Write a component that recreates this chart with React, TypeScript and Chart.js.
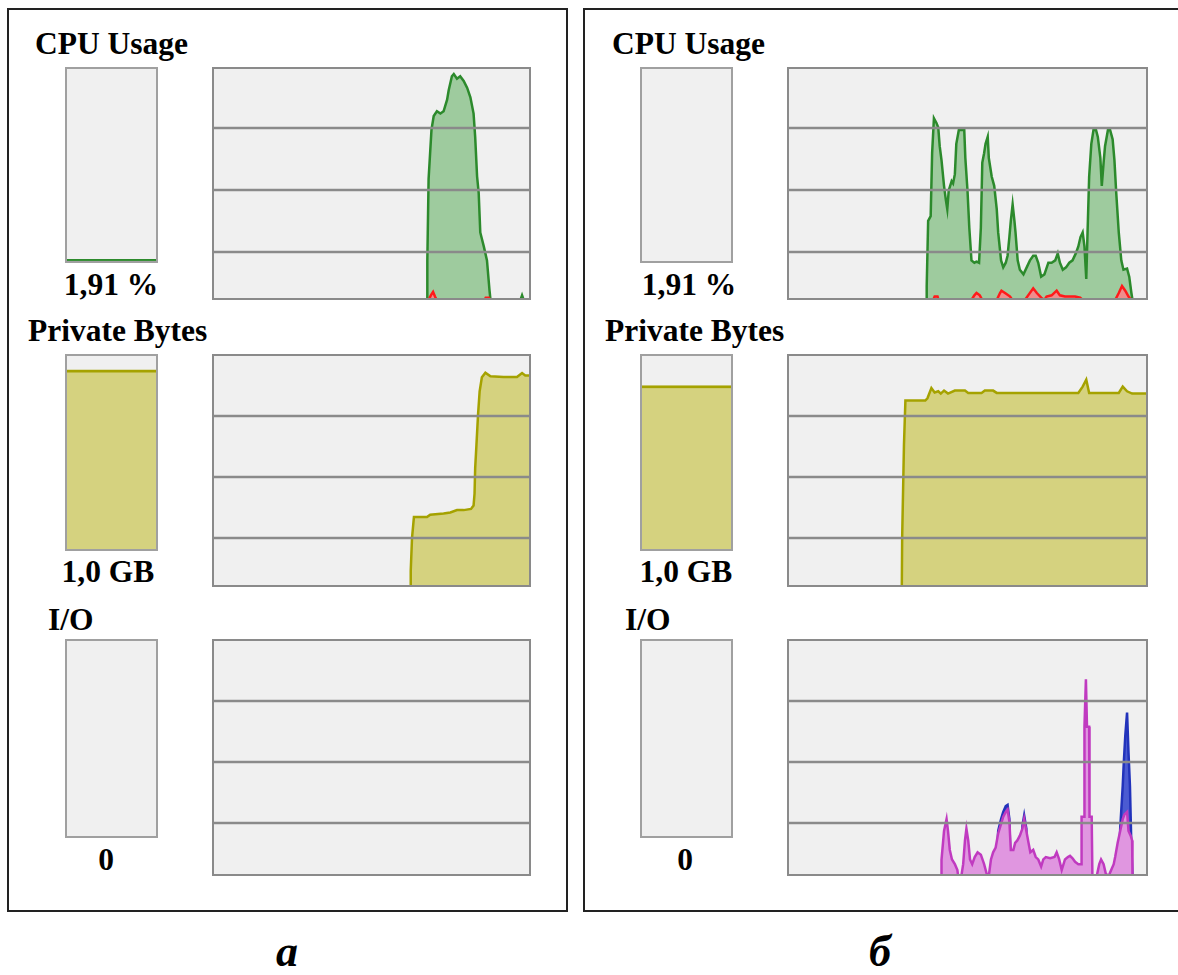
import React, { useEffect, useRef } from "react";
import { Chart, registerables } from "chart.js";

Chart.register(...registerables);

type Pt = [number, number];

// ---- data (time in % of the history window, value in % of graph height) ----
const cpuATotal: Pt[] = [[67.4,0],[67.5,17],[67.9,52],[68.8,73],[69.5,79],[70.5,81],[71.6,80],[72.6,81],[73.7,86],[74.2,90],[75.2,96],[75.8,97],[76.8,95],[77.8,96],[78.9,94],[80.0,91],[81.0,87],[82.0,80],[82.5,70],[83.1,53],[83.6,46],[84.1,29],[85.2,23],[86.2,17],[87.0,4],[87.3,0],[96.7,0],[97.2,2],[97.7,0]];
const cpuAKernel: Pt[] = [[67.9,0],[68.6,2],[69.3,3.5],[69.9,1.5],[70.5,0],[85.4,0],[85.8,1],[86.8,1],[87.2,0]];

const cpuBTotal: Pt[] = [[38.6,0],[38.7,6],[39.1,34],[39.8,36],[40.2,63],[40.7,78],[41.4,76],[41.9,74],[42.3,66],[42.8,60],[43.5,49],[44.0,43],[44.4,39],[44.8,47],[45.6,51],[46.0,50],[46.5,54],[46.9,67],[47.6,73],[48.3,73],[49.1,73],[49.4,61],[50.0,47],[50.5,31],[51.1,17],[51.9,16],[52.5,16.5],[53.2,16],[53.7,31],[54.1,59],[54.6,63],[55.0,67],[55.6,70],[55.9,61],[56.7,53],[57.4,49],[58.1,39],[58.5,29],[59.3,17],[59.9,14],[60.6,16],[61.1,19],[61.6,27],[62.0,34],[62.5,41],[63.0,34],[63.3,29],[63.9,17],[64.5,13],[65.5,11],[66.4,14],[67.3,17],[68.2,19],[68.9,19],[69.6,16],[70.4,10],[71.3,11],[72.4,16],[73.3,16],[74.3,17],[75.0,20],[75.6,16],[76.4,13],[77.3,14],[78.2,16],[79.1,17],[80.0,20],[80.7,23],[81.3,27],[81.9,29],[82.4,23],[82.9,9],[83.2,26],[83.7,53],[84.3,67],[84.9,73],[85.6,73],[86.1,70],[86.8,61],[87.2,49],[87.7,59],[88.1,66],[88.9,73],[89.5,73],[90.2,69],[90.7,60],[91.2,46],[91.9,29],[92.6,17],[93.2,13],[94.2,13.5],[94.8,10],[95.4,3],[95.7,0]];
const cpuBKernel: Pt[] = [[40.5,0],[40.9,1.5],[41.7,1.5],[42.0,0],[51.1,0],[51.9,2],[52.5,3],[53.4,2],[54.1,0],[58.1,0],[59.0,3],[59.4,4],[60.4,3],[61.8,1.5],[62.4,0],[65.9,0],[66.8,2],[68.2,5],[69.2,3],[70.4,1],[71.3,0],[71.9,1.5],[73.3,2],[74.7,4],[75.6,2],[77.0,1.5],[78.4,1.5],[79.8,1.5],[81.2,1],[81.9,0],[90.9,0],[91.9,3],[92.8,6],[93.7,4],[94.6,1.5],[95.4,0]];

const pbA: Pt[] = [[62.2,0],[62.3,7],[62.7,21],[63.3,30],[67.4,30],[68.4,31],[72.6,31.5],[74.7,32],[76.8,33],[78.9,33],[81.2,33.5],[82.0,35],[82.3,40],[82.5,51],[82.9,61],[83.4,74],[83.9,84],[84.6,90],[85.7,92],[87.3,90.4],[91.4,90.1],[95.6,90.1],[97.2,91.8],[98.2,90.8],[100,90.8]];
const pbB: Pt[] = [[31.8,0],[31.9,21],[32.4,61],[32.8,80],[36.3,80],[38.3,80],[38.9,81],[40.0,85.4],[40.9,83.5],[41.9,84],[42.6,83],[43.5,84.3],[44.6,83],[46.5,84.3],[49.3,84.3],[50.2,83.3],[53.9,83.3],[54.8,84.3],[57.1,84.3],[58.1,83.3],[80.7,83.3],[81.9,86],[82.9,89],[83.7,83.3],[91.9,83.3],[93.0,86],[94.2,84],[95.6,83],[100,83]];

const ioBWrite: Pt[] = [[42.7,0],[42.8,6.8],[43.5,19],[44.2,24],[44.6,19],[45.1,11],[45.7,7],[46.5,5],[47.2,2.5],[47.4,0],[48.3,0],[48.8,5],[49.3,15],[49.7,20],[50.2,15],[50.7,7],[51.3,5],[52.0,8],[52.8,10],[53.7,9],[54.6,5],[55.3,1],[55.9,0],[56.5,7],[57.1,10],[57.8,12],[58.5,18],[59.3,22],[59.9,25],[60.6,27],[61.1,28],[61.6,23],[62.0,11],[62.7,11],[63.2,14],[63.8,15],[64.5,17],[65.2,20],[65.7,24],[66.3,19],[66.9,14],[67.4,10],[68.2,11],[68.9,8],[69.6,7],[70.4,4],[71.0,7],[71.7,8],[72.9,7.5],[74.1,8],[74.7,10],[75.4,7],[76.1,2.5],[77.0,7],[77.8,8],[78.4,8.5],[79.1,7.5],[79.8,6],[80.7,5],[81.5,5],[81.6,25],[82.3,25],[82.4,63],[82.8,83],[83.1,63],[83.7,63],[83.8,25],[84.4,25],[84.6,0],[85.8,0],[86.5,5],[87.0,7],[87.7,5],[88.3,1],[89.1,0],[89.8,2.5],[90.5,5],[90.9,8],[91.6,14],[92.3,19],[93.0,24],[93.5,26],[94.2,27],[94.6,19],[95.2,17],[95.6,15],[95.7,0]];
const ioBRead: Pt[] = [[42.7,0],[58.0,0],[58.5,19],[59.3,24],[59.9,27],[60.6,29.5],[61.1,30],[61.6,24],[62.0,0],[64.9,0],[65.2,21],[65.7,25.5],[66.3,20],[66.5,0],[91.9,0],[92.3,20],[93.0,38],[93.3,48],[93.7,59],[94.2,69],[94.6,52],[95.0,38],[95.4,12],[95.7,0]];

const cpuGridLevels = [20.6, 47.2, 73.8];
const pbGridLevels = [21.0, 47.2, 73.4];
const ioGridLevels = [22.4, 48.1, 73.8];

const gaugeA = { cpu: 1.91, pb: 92, io: 0 };
const gaugeB = { cpu: 0, pb: 84, io: 0 };

const titles = ["CPU Usage", "Private Bytes", "I/O"];
const valueTexts = ["1,91 %", "1,0 GB", "0"];
const panelLetters = ["а", "б"];

// ---- colours ----
const GREEN_LINE = "#2c8a2c";
const GREEN_FILL = "#9ecb9e";
const RED_LINE = "#ff1a1a";
const RED_FILL = "#f08c8c";
const OLIVE_LINE = "#a5a200";
const OLIVE_FILL = "#d5d27f";
const PINK_LINE = "#c03ac0";
const PINK_FILL = "#e096e0";
const BLUE_LINE = "#2233bb";
const BLUE_FILL = "#4b5bd2";
const BG = "#f0f0f0";
const GRID = "#8a8a8a";

const framePlugin = {
  id: "frame",
  beforeDraw(chart: any) {
    const { ctx, chartArea: a } = chart;
    ctx.save();
    ctx.fillStyle = BG;
    ctx.fillRect(a.left, a.top, a.right - a.left, a.bottom - a.top);
    ctx.restore();
  },
  afterDatasetsDraw(chart: any, _args: any, opts: any) {
    const { ctx, chartArea: a } = chart;
    const y = chart.scales.y;
    ctx.save();
    ctx.strokeStyle = opts.color || GRID;
    ctx.lineWidth = 2.5;
    for (const v of opts.levels || []) {
      const py = y.getPixelForValue(v);
      ctx.beginPath();
      ctx.moveTo(a.left, py);
      ctx.lineTo(a.right, py);
      ctx.stroke();
    }
    ctx.lineWidth = 2;
    ctx.strokeRect(a.left + 1, a.top + 1, a.right - a.left - 2, a.bottom - a.top - 2);
    ctx.restore();
  },
};

type Series = { points: Pt[]; line: string; fill: string };
type Box = { left: number; top: number; width: number; height: number };

function HistoryChart({ box, series, levels }: { box: Box; series: Series[]; levels: number[] }) {
  const ref = useRef<HTMLCanvasElement>(null);
  useEffect(() => {
    const chart = new Chart(ref.current as HTMLCanvasElement, {
      type: "line",
      data: {
        datasets: series.map((s) => ({
          data: s.points.map(([x, y]) => ({ x, y })),
          borderColor: s.line,
          backgroundColor: s.fill,
          fill: "origin",
          borderWidth: 2.5,
          pointRadius: 0,
          tension: 0,
        })),
      },
      options: {
        animation: false,
        responsive: true,
        maintainAspectRatio: false,
        events: [],
        layout: { padding: 0 },
        scales: {
          x: { type: "linear", min: 0, max: 100, display: false },
          y: { min: 0, max: 100, display: false },
        },
        plugins: {
          legend: { display: false },
          tooltip: { enabled: false },
          frame: { levels },
        } as any,
      },
      plugins: [framePlugin as any],
    });
    return () => chart.destroy();
  }, []);
  return (
    <div style={{ position: "absolute", ...box }}>
      <canvas ref={ref} />
    </div>
  );
}

function Gauge({ box, value, line, fill }: { box: Box; value: number; line: string; fill: string }) {
  const ref = useRef<HTMLCanvasElement>(null);
  useEffect(() => {
    const chart = new Chart(ref.current as HTMLCanvasElement, {
      type: "bar",
      data: {
        labels: [""],
        datasets: [
          {
            data: [value],
            backgroundColor: fill,
            borderColor: line,
            borderWidth: { top: 3, left: 0, right: 0, bottom: 0 },
            borderSkipped: false,
            barPercentage: 1,
            categoryPercentage: 1,
          },
        ],
      },
      options: {
        animation: false,
        responsive: true,
        maintainAspectRatio: false,
        events: [],
        layout: { padding: 0 },
        scales: {
          x: { display: false },
          y: { min: 0, max: 100, display: false },
        },
        plugins: {
          legend: { display: false },
          tooltip: { enabled: false },
          frame: { levels: [], color: "#a0a0a0" },
        } as any,
      },
      plugins: [framePlugin as any],
    });
    return () => chart.destroy();
  }, []);
  return (
    <div style={{ position: "absolute", ...box }}>
      <canvas ref={ref} />
    </div>
  );
}

const FONT = '"Liberation Serif", "Times New Roman", serif';

function Txt({ x, base, text, center }: { x: number; base: number; text: string; center?: boolean }) {
  const style: React.CSSProperties = {
    position: "absolute",
    top: base - 26,
    fontFamily: FONT,
    fontWeight: "bold",
    fontSize: 31.5,
    lineHeight: "31px",
    whiteSpace: "nowrap",
    color: "#000",
  };
  if (center) {
    style.left = x - 100;
    style.width = 200;
    style.textAlign = "center";
  } else {
    style.left = x;
  }
  return <div style={style}>{text}</div>;
}

export default function App() {
  return (
    <div
      style={{
        position: "absolute",
        left: 0,
        top: 0,
        width: 1178,
        height: 975,
        overflow: "hidden",
        background: "#fff",
      }}
    >
      {/* panel frames */}
      <div style={{ position: "absolute", left: 7, top: 8, width: 561, height: 904, border: "2px solid #222", boxSizing: "border-box" }} />
      <div style={{ position: "absolute", left: 583, top: 8, width: 610, height: 904, border: "2px solid #222", boxSizing: "border-box" }} />

      {/* panel a */}
      <Txt x={35} base={54} text={titles[0]} />
      <Gauge box={{ left: 65, top: 67, width: 93, height: 196 }} value={gaugeA.cpu} line={GREEN_LINE} fill="#5da55d" />
      <Txt x={111} base={295} text={valueTexts[0]} center />
      <HistoryChart
        box={{ left: 212, top: 67, width: 319, height: 233 }}
        levels={cpuGridLevels}
        series={[
          { points: cpuAKernel, line: RED_LINE, fill: RED_FILL },
          { points: cpuATotal, line: GREEN_LINE, fill: GREEN_FILL },
        ]}
      />
      <Txt x={28} base={341} text={titles[1]} />
      <Gauge box={{ left: 65, top: 354, width: 93, height: 197 }} value={gaugeA.pb} line={OLIVE_LINE} fill={OLIVE_FILL} />
      <Txt x={108} base={582} text={valueTexts[1]} center />
      <HistoryChart
        box={{ left: 212, top: 354, width: 319, height: 233 }}
        levels={pbGridLevels}
        series={[{ points: pbA, line: OLIVE_LINE, fill: OLIVE_FILL }]}
      />
      <Txt x={48} base={630} text={titles[2]} />
      <Gauge box={{ left: 65, top: 639, width: 93, height: 199 }} value={gaugeA.io} line={PINK_LINE} fill={PINK_FILL} />
      <Txt x={106} base={870} text={valueTexts[2]} center />
      <HistoryChart box={{ left: 212, top: 639, width: 319, height: 237 }} levels={ioGridLevels} series={[]} />

      {/* panel б */}
      <Txt x={612} base={54} text={titles[0]} />
      <Gauge box={{ left: 640, top: 67, width: 93, height: 196 }} value={gaugeB.cpu} line={GREEN_LINE} fill="#5da55d" />
      <Txt x={689} base={295} text={valueTexts[0]} center />
      <HistoryChart
        box={{ left: 787, top: 67, width: 361, height: 233 }}
        levels={cpuGridLevels}
        series={[
          { points: cpuBKernel, line: RED_LINE, fill: RED_FILL },
          { points: cpuBTotal, line: GREEN_LINE, fill: GREEN_FILL },
        ]}
      />
      <Txt x={605} base={341} text={titles[1]} />
      <Gauge box={{ left: 640, top: 354, width: 93, height: 197 }} value={gaugeB.pb} line={OLIVE_LINE} fill={OLIVE_FILL} />
      <Txt x={686} base={582} text={valueTexts[1]} center />
      <HistoryChart
        box={{ left: 787, top: 354, width: 361, height: 233 }}
        levels={pbGridLevels}
        series={[{ points: pbB, line: OLIVE_LINE, fill: OLIVE_FILL }]}
      />
      <Txt x={625} base={630} text={titles[2]} />
      <Gauge box={{ left: 640, top: 639, width: 93, height: 199 }} value={gaugeB.io} line={PINK_LINE} fill={PINK_FILL} />
      <Txt x={685} base={870} text={valueTexts[2]} center />
      <HistoryChart
        box={{ left: 787, top: 639, width: 361, height: 237 }}
        levels={ioGridLevels}
        series={[
          { points: ioBWrite, line: PINK_LINE, fill: PINK_FILL },
          { points: ioBRead, line: BLUE_LINE, fill: BLUE_FILL },
        ]}
      />

      {/* panel letters */}
      {panelLetters.map((l, i) => (
        <div
          key={l}
          style={{
            position: "absolute",
            left: (i === 0 ? 287 : 880) - 50,
            width: 100,
            top: 930,
            textAlign: "center",
            fontFamily: FONT,
            fontWeight: "bold",
            fontStyle: "italic",
            fontSize: 44,
            lineHeight: "44px",
          }}
        >
          {l}
        </div>
      ))}
    </div>
  );
}
